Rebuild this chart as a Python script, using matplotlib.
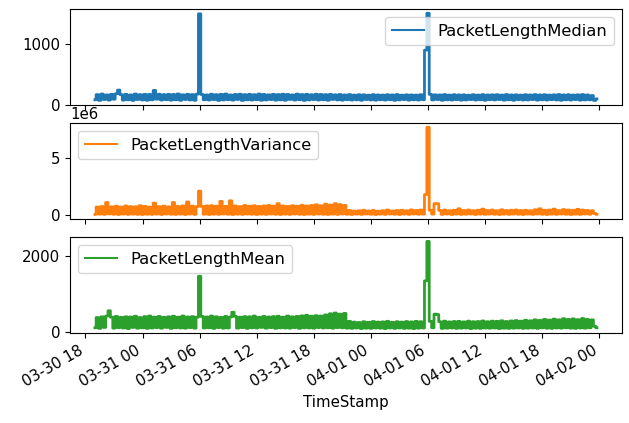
import matplotlib
matplotlib.use("Agg")
import matplotlib.pyplot as plt
import matplotlib.dates as mdates
import pandas as pd

plt.rcParams["font.size"] = 10.8
plt.rcParams["legend.fontsize"] = 11.8

# 15-minute samples starting 2020-03-30 19:00
start_time = "2020-03-30 19:00"

packet_length_median = [
    80, 165, 70, 175, 85, 160, 75, 170,
    90, 180, 240, 165, 75, 170, 80, 160,
    70, 175, 85, 165, 78, 170, 72, 168,
    80, 235, 90, 172, 76, 165, 82, 170,
    74, 168, 80, 176, 72, 162, 85, 170,
    78, 166, 72, 174, 1500, 168, 80, 160,
    76, 172, 84, 165, 70, 170, 78, 175,
    82, 160, 74, 168, 86, 172, 70, 165,
    80, 170, 76, 164, 82, 175, 72, 168,
    78, 162, 84, 170, 74, 166, 80, 172,
    72, 168, 86, 160, 76, 174, 82, 166,
    70, 170, 78, 164, 84, 172, 76, 168,
    80, 165, 72, 170, 86, 162, 78, 168,
    74, 160, 82, 166, 76, 158, 80, 164,
    72, 162, 84, 156, 78, 165, 74, 160,
    80, 158, 76, 164, 82, 160, 72, 166,
    78, 156, 84, 162, 74, 160, 80, 158,
    76, 164, 82, 900, 1510, 170, 78, 162,
    84, 160, 72, 166, 80, 158, 76, 164,
    82, 160, 74, 162, 78, 156, 84, 164,
    76, 158, 80, 165, 72, 160, 82, 162,
    78, 164, 84, 158, 74, 166, 80, 160,
    72, 162, 82, 158, 76, 164, 78, 160,
    84, 166, 74, 160, 80, 164, 76, 158,
    82, 162, 78, 166, 72, 160, 80, 164,
    76, 158, 84, 162, 74, 166, 78, 160,
    80, 150, 70, 95,
]

packet_length_variance = [
    0.05e6, 0.70e6, 0.08e6, 0.75e6, 0.06e6, 1.10e6, 0.10e6, 0.72e6,
    0.07e6, 0.78e6, 0.05e6, 0.70e6, 0.09e6, 0.80e6, 0.06e6, 0.74e6,
    0.08e6, 0.72e6, 0.06e6, 0.82e6, 0.05e6, 0.76e6, 0.07e6, 0.70e6,
    0.06e6, 1.05e6, 0.08e6, 0.74e6, 0.05e6, 0.78e6, 0.09e6, 0.72e6,
    0.07e6, 1.10e6, 0.06e6, 0.76e6, 0.08e6, 0.80e6, 0.05e6, 1.15e6,
    0.09e6, 0.78e6, 0.06e6, 0.74e6, 2.10e6, 0.76e6, 0.07e6, 0.80e6,
    0.05e6, 0.82e6, 0.08e6, 0.78e6, 0.06e6, 1.20e6, 0.09e6, 0.76e6,
    0.07e6, 1.25e6, 0.05e6, 0.80e6, 0.08e6, 0.74e6, 0.06e6, 0.84e6,
    0.09e6, 0.78e6, 0.07e6, 0.82e6, 0.05e6, 0.76e6, 0.08e6, 0.80e6,
    0.06e6, 0.84e6, 0.09e6, 0.78e6, 0.07e6, 1.00e6, 0.05e6, 0.80e6,
    0.08e6, 0.76e6, 0.06e6, 0.82e6, 0.09e6, 0.78e6, 0.07e6, 0.86e6,
    0.05e6, 0.80e6, 0.08e6, 0.84e6, 0.06e6, 0.90e6, 0.09e6, 0.82e6,
    0.07e6, 0.95e6, 0.05e6, 0.88e6, 0.08e6, 1.00e6, 0.06e6, 0.92e6,
    0.09e6, 0.85e6, 0.07e6, 0.40e6, 0.05e6, 0.35e6, 0.08e6, 0.38e6,
    0.06e6, 0.42e6, 0.09e6, 0.36e6, 0.07e6, 0.40e6, 0.05e6, 0.34e6,
    0.08e6, 0.38e6, 0.06e6, 0.44e6, 0.09e6, 0.36e6, 0.07e6, 0.40e6,
    0.05e6, 0.42e6, 0.08e6, 0.38e6, 0.06e6, 0.45e6, 0.09e6, 0.40e6,
    0.07e6, 0.44e6, 0.08e6, 1.80e6, 7.70e6, 0.42e6, 0.08e6, 1.00e6,
    1.00e6, 0.40e6, 0.06e6, 0.44e6, 0.09e6, 0.38e6, 0.05e6, 0.42e6,
    0.08e6, 0.55e6, 0.06e6, 0.40e6, 0.07e6, 0.44e6, 0.09e6, 0.38e6,
    0.05e6, 0.42e6, 0.08e6, 0.52e6, 0.06e6, 0.40e6, 0.09e6, 0.44e6,
    0.07e6, 0.38e6, 0.05e6, 0.46e6, 0.08e6, 0.40e6, 0.06e6, 0.42e6,
    0.09e6, 0.44e6, 0.07e6, 0.40e6, 0.05e6, 0.42e6, 0.08e6, 0.38e6,
    0.06e6, 0.46e6, 0.09e6, 0.55e6, 0.07e6, 0.42e6, 0.05e6, 0.44e6,
    0.08e6, 0.52e6, 0.06e6, 0.40e6, 0.09e6, 0.48e6, 0.07e6, 0.44e6,
    0.05e6, 0.42e6, 0.08e6, 0.50e6, 0.06e6, 0.44e6, 0.09e6, 0.40e6,
    0.07e6, 0.38e6, 0.15e6, 0.06e6,
]

packet_length_mean = [
    110, 380, 95, 400, 120, 420, 560, 390,
    100, 410, 115, 385, 105, 400, 90, 395,
    120, 415, 100, 380, 110, 405, 95, 420,
    105, 390, 115, 410, 100, 385, 120, 400,
    95, 415, 110, 390, 105, 420, 100, 395,
    115, 405, 100, 390, 1470, 410, 105, 395,
    110, 420, 95, 400, 115, 385, 100, 410,
    105, 395, 520, 410, 100, 390, 115, 405,
    95, 400, 110, 420, 105, 385, 120, 410,
    100, 395, 115, 405, 95, 415, 110, 390,
    105, 420, 100, 400, 115, 410, 95, 425,
    110, 440, 105, 415, 100, 430, 115, 420,
    105, 450, 110, 480, 100, 500, 115, 470,
    110, 490, 100, 280, 95, 260, 105, 250,
    90, 270, 100, 255, 95, 275, 105, 260,
    100, 265, 90, 280, 105, 255, 95, 270,
    105, 260, 95, 275, 100, 265, 90, 280,
    100, 270, 105, 1350, 2390, 280, 110, 470,
    460, 270, 95, 285, 100, 265, 105, 275,
    95, 280, 100, 265, 105, 285, 90, 270,
    100, 275, 95, 290, 105, 270, 100, 285,
    105, 280, 90, 295, 100, 275, 95, 290,
    100, 300, 105, 285, 95, 310, 100, 295,
    105, 320, 95, 305, 110, 330, 100, 315,
    95, 340, 105, 320, 100, 350, 110, 330,
    100, 345, 95, 325, 105, 355, 100, 330,
    110, 320, 150, 110,
]

series_names = ["PacketLengthMedian", "PacketLengthVariance", "PacketLengthMean"]
series_colors = ["#1f77b4", "#ff7f0e", "#2ca02c"]
legend_locs = ["upper right", "upper left", "upper left"]
y_ticks = [[0, 1000], [0, 5e6], [0, 2000]]

timestamps = pd.date_range(start_time, periods=len(packet_length_median), freq="15min")
df = pd.DataFrame(
    {
        "PacketLengthMedian": packet_length_median,
        "PacketLengthVariance": packet_length_variance,
        "PacketLengthMean": packet_length_mean,
    },
    index=timestamps,
)
df.index.name = "TimeStamp"

fig, axes = plt.subplots(3, 1, sharex=True, figsize=(6.29, 4.23), dpi=100)
fig.subplots_adjust(left=0.111, right=0.989, top=0.979, bottom=0.213, hspace=0.19)

for ax, name, color, loc, yt in zip(axes, series_names, series_colors, legend_locs, y_ticks):
    ax.plot(df.index.to_pydatetime(), df[name].values, color=color, lw=2.0,
            drawstyle="steps-mid", snap=False, label=name)
    ax.set_yticks(yt)
    leg = ax.legend(loc=loc)
    for handle in leg.get_lines():
        handle.set_linewidth(1.5)

axes[-1].xaxis.set_major_locator(mdates.HourLocator(byhour=[0, 6, 12, 18]))
axes[-1].xaxis.set_major_formatter(mdates.DateFormatter("%m-%d %H"))
axes[-1].set_xlabel("TimeStamp")
for label in axes[-1].get_xticklabels():
    label.set_rotation(30)
    label.set_ha("right")
for ax in axes[:-1]:
    ax.tick_params(labelbottom=False)

fig.savefig("out.png", dpi=100)
